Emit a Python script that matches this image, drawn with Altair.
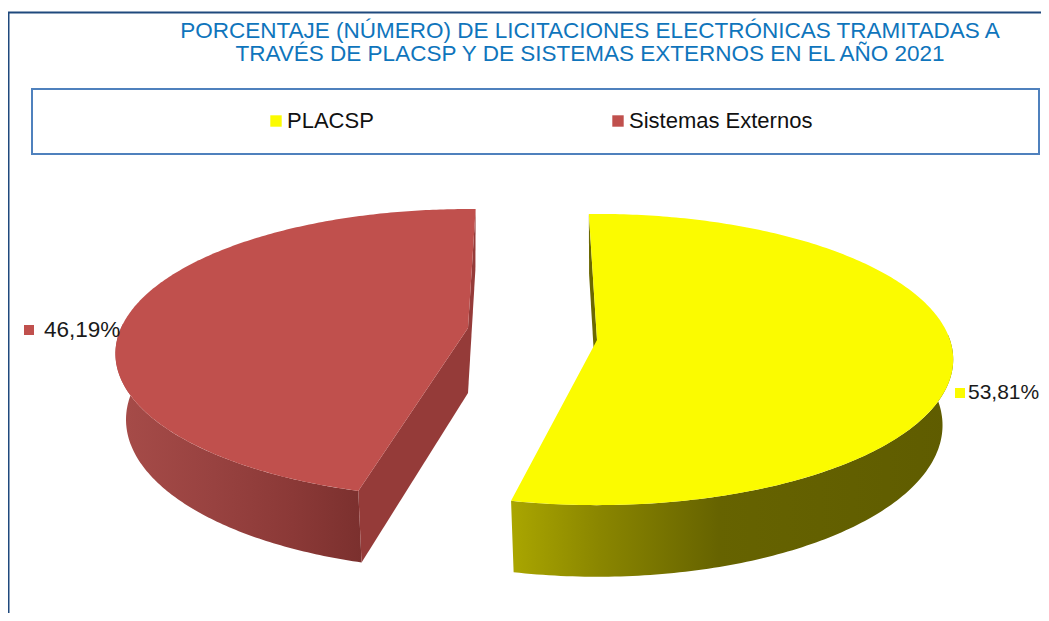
import math
import altair as alt
import pandas as pd

# Chart values
categories = ["PLACSP", "Sistemas Externos"]
percentages = [53.81, 46.19]
slice_colors = ["#fbfb00", "#c0504d"]
title_lines = [
    "PORCENTAJE (NÚMERO) DE LICITACIONES ELECTRÓNICAS TRAMITADAS A",
    "TRAVÉS DE PLACSP Y DE SISTEMAS EXTERNOS EN EL AÑO 2021",
]

# Look of the 3D pie (apex x, apex y, horizontal radius, vertical radius,
# perspective, start angle in degrees clockwise from the back)
view = {
    "PLACSP": dict(ax=597, ay=340, A=353, B=143, k=0.134, start=-1.5),
    "Sistemas Externos": dict(ax=468, ay=328, A=347, B=140, k=0.177, start=195.2),
}
DEPTH = 65
LOWER_X = 0.97
LOWER_Y = 1.04
W, H = 1033, 605
FONT = "Liberation Sans"


def rim(cat, deg, lower=False):
    v = view[cat]
    phi = math.radians(deg)
    p = 1 / (1 + v["k"] * math.cos(phi))
    dx = v["A"] * math.sin(phi) * p
    dy = -v["B"] * math.cos(phi) * p
    if lower:
        return v["ax"] + LOWER_X * dx, v["ay"] + DEPTH + LOWER_Y * dy
    return v["ax"] + dx, v["ay"] + dy


def apex(cat, lower=False):
    v = view[cat]
    return v["ax"], v["ay"] + (DEPTH if lower else 0)


def table(points, cat):
    return pd.DataFrame(
        [{"x": x, "y": y, "i": i, "serie": cat} for i, (x, y) in enumerate(points)]
    )


def arc_angles(a, b, n=120):
    return [a + (b - a) * j / n for j in range(n + 1)]


def sweep(cat):
    s = view[cat]["start"]
    return s, s + percentages[categories.index(cat)] * 3.6


x_scale = alt.Scale(domain=[8, 8 + W], range=[0, W], nice=False, zero=False)
y_scale = alt.Scale(domain=[8 + H, 8], range=[H, 0], nice=False, zero=False)


def poly(points, cat, fill):
    return (
        alt.Chart(table(points, cat))
        .mark_line(fill=fill, stroke="transparent", strokeWidth=0, clip=False)
        .encode(
            x=alt.X("x:Q", scale=x_scale, axis=None),
            y=alt.Y("y:Q", scale=y_scale, axis=None),
            order="i:Q",
        )
    )


def ramp(stops):
    return alt.Gradient(
        gradient="linear", x1=0, x2=1, y1=0, y2=0,
        stops=[alt.GradientStop(offset=o, color=c) for o, c in stops],
    )


# ---- Sistemas Externos
c = categories[1]
s0, s1 = sweep(c)
red_side = [rim(c, d) for d in arc_angles(s0, 272)] + [rim(c, d, True) for d in arc_angles(272, s0)]
red_layers = [
    poly(red_side, c, ramp([(0, "#a74c49"), (0.4, "#984240"), (0.72, "#8b3937"), (1, "#7b302e")])),
    poly([rim(c, s1), rim(c, s1, True), apex(c, True), apex(c)], c, "#953b39"),
    poly([apex(c), apex(c, True), rim(c, s0, True), rim(c, s0)], c, "#953b39"),
]

# ---- PLACSP
c = categories[0]
y0, y1 = sweep(c)
yel_side = [rim(c, d) for d in arc_angles(88, y1)] + [rim(c, d, True) for d in arc_angles(y1, 88)]
yel_layers = [
    poly(yel_side, c, ramp([(0, "#aaa600"), (0.2, "#8a8600"), (0.47, "#666300"), (1, "#5f5c00")])),
    poly([rim(c, y0), rim(c, y0, True), apex(c, True), apex(c)], c, "#6b6800"),
]

# ---- Top faces (these feed the legend)
tops = []
for cat in categories:
    a, b = sweep(cat)
    tops.append(table([apex(cat)] + [rim(cat, d) for d in arc_angles(a, b, 240)], cat))
top_df = pd.concat(tops, ignore_index=True)

top = (
    alt.Chart(top_df)
    .mark_line(stroke="transparent", strokeWidth=0, clip=False)
    .encode(
        x=alt.X("x:Q", scale=x_scale, axis=None),
        y=alt.Y("y:Q", scale=y_scale, axis=None),
        order="i:Q",
        fill=alt.Fill(
            "serie:N",
            scale=alt.Scale(domain=categories, range=slice_colors),
            legend=alt.Legend(
                orient="none", legendX=257, legendY=102, direction="horizontal", columns=2,
                title=None, symbolType="square", symbolSize=130, symbolStrokeWidth=0,
                labelFont=FONT, labelFontSize=22, labelColor="#111111", labelLimit=400,
                columnPadding=233, labelOffset=0,
            ),
        ),
    )
)

# ---- Frame, legend box, title
frame_top = alt.Chart(pd.DataFrame({"a": [0]})).mark_rule(color="#1f497d", strokeWidth=2).encode(
    x=alt.value(0), x2=alt.value(W), y=alt.value(4.5))
frame_left = alt.Chart(pd.DataFrame({"a": [0]})).mark_rule(color="#1f497d", strokeWidth=2).encode(
    x=alt.value(0.5), y=alt.value(4), y2=alt.value(H))
box = alt.Chart(pd.DataFrame({"a": [0]})).mark_rect(
    fill="white", stroke="#4f81bd", strokeWidth=2
).encode(x=alt.value(24), x2=alt.value(1031), y=alt.value(81), y2=alt.value(146))

title = alt.Chart(pd.DataFrame({"t": title_lines, "row": [23, 46]})).mark_text(
    font=FONT, fontSize=22.5, color="#0f75bc", baseline="middle", align="center", clip=False
).encode(
    x=alt.value(582),
    y=alt.Y("row:Q", scale=alt.Scale(domain=[0, H], range=[0, H], nice=False, zero=False), axis=None),
    text="t:N",
)

# ---- Data labels
lab_df = pd.DataFrame({
    "serie": categories,
    "pct": [f"{p:.2f}".replace(".", ",") + "%" for p in percentages],
    "sx": [960, 29],
    "sy": [393, 330],
    "tx": [968, 44],
    "fs": [21, 22.5],
})
squares = alt.Chart(lab_df).mark_square(size=100, opacity=1, clip=False).encode(
    x=alt.X("sx:Q", scale=x_scale, axis=None),
    y=alt.Y("sy:Q", scale=y_scale, axis=None),
    fill=alt.Fill("serie:N", legend=None),
)
labels = alt.Chart(lab_df).mark_text(
    font=FONT, color="#1a1a1a", align="left", baseline="middle", clip=False
).encode(
    x=alt.X("tx:Q", scale=x_scale, axis=None),
    y=alt.Y("sy:Q", scale=y_scale, axis=None),
    text="pct:N",
    size=alt.Size("fs:Q", scale=None, legend=None),
)

chart = (
    alt.layer(frame_top, frame_left, box, title, *red_layers, *yel_layers, top, squares, labels)
    .resolve_scale(y="independent")
    .properties(width=W, height=H, padding=0, autosize=alt.AutoSizeParams(type="none"), background="white")
    .configure_view(stroke=None)
)
chart.save("out.html", embed_options={"renderer": "svg", "actions": False})
